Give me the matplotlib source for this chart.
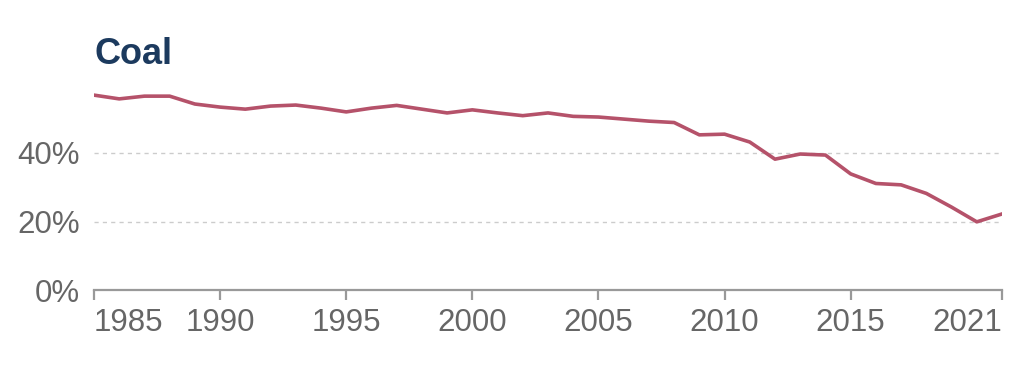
import matplotlib
matplotlib.use("Agg")
import matplotlib.pyplot as plt
from matplotlib.ticker import FuncFormatter

years = list(range(1985, 2022))
coal_share = [56.9, 55.8, 56.6, 56.6, 54.3, 53.4, 52.8, 53.7, 54.0, 53.1,
              52.0, 53.1, 53.9, 52.8, 51.7, 52.6, 51.7, 50.9, 51.7, 50.7,
              50.5, 49.9, 49.3, 48.9, 45.3, 45.5, 43.2, 38.2, 39.7, 39.4,
              33.9, 31.1, 30.7, 28.2, 24.2, 19.9, 22.2]
x_ticks = [1985, 1990, 1995, 2000, 2005, 2010, 2015, 2021]
y_ticks = [0, 20, 40]
title = "Coal"

plt.rcParams['font.family'] = ['Liberation Sans', 'DejaVu Sans']

fig = plt.figure(figsize=(10.24, 3.71), dpi=100)
ax = fig.add_axes([94/1024, 1-290/371, (1002-94)/1024, (290-84.5)/371])

ax.plot(years, coal_share, color='#b5526a', lw=2.6, solid_joinstyle='round', zorder=3)

ax.set_xlim(1985, 2021)
ax.set_ylim(0, 60)
ax.set_xticks(x_ticks)
ax.set_yticks(y_ticks)
ax.yaxis.set_major_formatter(FuncFormatter(lambda v, p: f"{int(v)}%"))

for s in ['left', 'right', 'top']:
    ax.spines[s].set_visible(False)
ax.spines['bottom'].set_color('#999999')
ax.spines['bottom'].set_linewidth(1.6)
ax.spines['bottom'].set_zorder(4)

ax.tick_params(axis='x', length=7, width=1.6, color='#999999', pad=6,
               labelsize=22.5, labelcolor='#666666')
ax.tick_params(axis='y', length=0, pad=10, labelsize=22.5, labelcolor='#666666')

ax.grid(axis='y', color='#cccccc', linestyle=(0, (3, 3)), linewidth=1.0)
ax.set_axisbelow(True)

labels = ax.get_xticklabels()
labels[0].set_horizontalalignment('left')
labels[-1].set_horizontalalignment('right')

fig.text(94/1024, 1-64/371, title, fontsize=26, fontweight='bold',
         color='#1c3a5e', ha='left', va='baseline')

fig.savefig('out.png', dpi=100, facecolor='white')
